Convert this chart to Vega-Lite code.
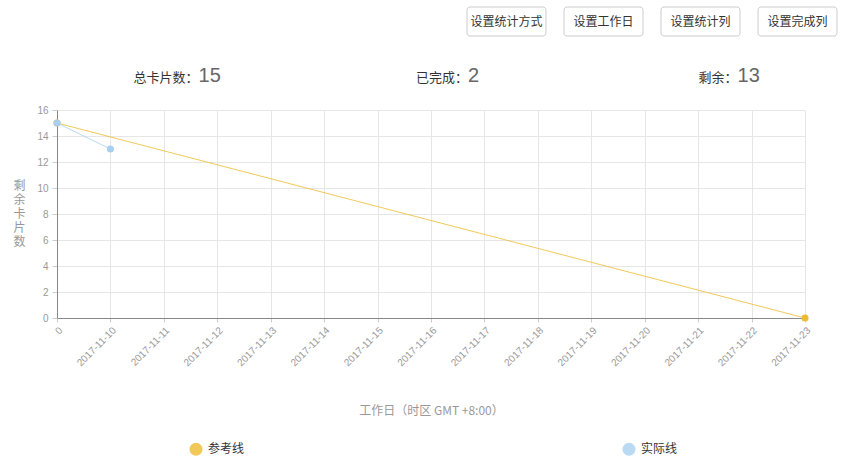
{
  "$schema": "https://vega.github.io/schema/vega-lite/v6.json",
  "background": "white",
  "padding": {"left": 12, "top": 6, "right": 0, "bottom": 0},
  "spacing": 14,
  "config": {
    "view": {"stroke": null},
    "font": "Noto Sans CJK SC"
  },
  "vconcat": [
    {
      "width": 791,
      "height": 29,
      "data": {"values": [
        {"button": "设置统计方式"},
        {"button": "设置工作日"},
        {"button": "设置统计列"},
        {"button": "设置完成列"}
      ]},
      "encoding": {
        "x": {"field": "button", "type": "nominal", "sort": null, "axis": null,
          "scale": {"type": "band", "paddingInner": 0.186, "paddingOuter": 0, "range": [410, 780]}}
      },
      "layer": [
        {"mark": {"type": "rect", "fill": "white", "stroke": "#cccccc", "strokeWidth": 1, "cornerRadius": 3}},
        {"mark": {"type": "text", "fontSize": 12, "color": "#333333", "font": "Noto Sans CJK SC"},
          "encoding": {"text": {"field": "button"}}}
      ]
    },
    {
      "width": 791,
      "height": 40,
      "data": {"values": [
        {"item": "总卡片数：", "count": 15},
        {"item": "已完成：", "count": 2},
        {"item": "剩余：", "count": 13}
      ]},
      "encoding": {
        "x": {"field": "item", "type": "nominal", "sort": null, "axis": null,
          "scale": {"type": "point", "padding": 0.4675, "align": 0.558}}
      },
      "layer": [
        {"mark": {"type": "text", "align": "right", "dx": 1, "dy": 7, "fontSize": 13, "color": "#333333", "font": "Noto Sans CJK SC"},
          "encoding": {"text": {"field": "item"}}},
        {"mark": {"type": "text", "align": "left", "dx": 1, "dy": 5, "fontSize": 20, "color": "#666666", "font": "Liberation Sans"},
          "encoding": {"text": {"field": "count"}}}
      ]
    },
    {
      "width": 748,
      "height": 208,
      "data": {"values": [
        {"day": "0", "remaining": 15, "series": "参考线"},
        {"day": "2017-11-23", "remaining": 0, "series": "参考线"},
        {"day": "0", "remaining": 15, "series": "实际线"},
        {"day": "2017-11-10", "remaining": 13, "series": "实际线"}
      ]},
      "encoding": {
        "x": {"field": "day", "type": "ordinal",
          "scale": {"type": "point", "padding": 0, "domain": ["0", "2017-11-10", "2017-11-11", "2017-11-12", "2017-11-13", "2017-11-14", "2017-11-15", "2017-11-16", "2017-11-17", "2017-11-18", "2017-11-19", "2017-11-20", "2017-11-21", "2017-11-22", "2017-11-23"]},
          "axis": {"title": "工作日（时区 GMT +8:00）", "labelAngle": -45, "labelFont": "Liberation Sans", "labelFontSize": 10, "labelColor": "#999999",
            "grid": true, "gridColor": "#e6e6e6", "domainColor": "#888888", "tickColor": "#cccccc", "tickSize": 4,
            "titleColor": "#999999", "titleFontSize": 12, "titleFontWeight": "normal", "titlePadding": 38, "labelPadding": 3}},
        "y": {"field": "remaining", "type": "quantitative",
          "scale": {"domain": [0, 16], "nice": false},
          "axis": {"values": [0, 2, 4, 6, 8, 10, 12, 14, 16], "title": ["剩", "余", "卡", "片", "数"], "titleAngle": 0, "titleLineHeight": 14,
            "titleBaseline": "middle", "titleAlign": "center", "titleX": -38, "titleY": 75,
            "labelFont": "Liberation Sans", "labelFontSize": 10, "labelColor": "#999999",
            "grid": true, "gridColor": "#e6e6e6", "domainColor": "#888888", "tickColor": "#cccccc", "tickSize": 5, "labelPadding": 4,
            "titleColor": "#999999", "titleFontSize": 12, "titleFontWeight": "normal"}},
        "color": {"field": "series", "type": "nominal",
          "scale": {"domain": ["参考线", "实际线"], "range": ["#eebb30", "#a9cff0"]},
          "legend": {"title": null, "orient": "none", "legendX": 132, "legendY": 435, "direction": "horizontal", "columns": 2, "columnPadding": 377,
            "symbolType": "circle", "symbolSize": 170, "symbolStrokeWidth": 0, "labelFontSize": 12, "labelColor": "#333333", "labelFont": "Noto Sans CJK SC", "labelOffset": 5}}
      },
      "layer": [
        {"mark": {"type": "line", "strokeWidth": 1, "opacity": 0.8}},
        {"mark": {"type": "point", "filled": true, "size": 50, "opacity": 1}}
      ]
    }
  ]
}
